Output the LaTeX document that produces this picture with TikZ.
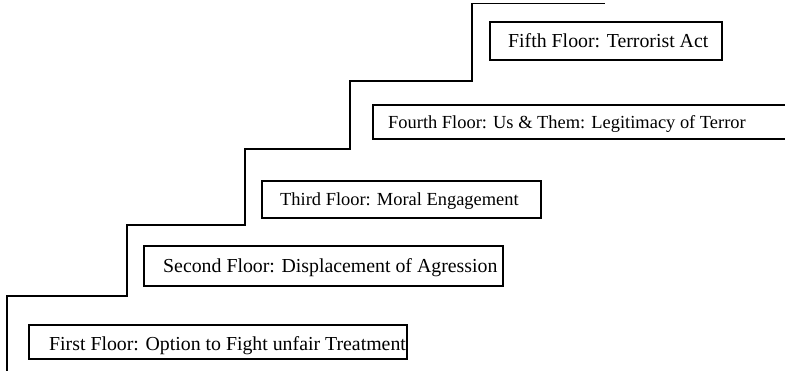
\documentclass[tikz,border=0pt]{standalone}
\usepackage{fontspec}
\setmainfont{Liberation Serif}
\begin{document}
\begin{tikzpicture}[x=1bp,y=-1bp,
  stair/.style={line width=1.8bp, line join=miter},
  floorbox/.style={draw, line width=1.8bp, rectangle, anchor=north west, inner sep=0pt},
  floortext/.style={anchor=base west, inner sep=0pt, font=\fontsize{18.5}{20}\selectfont},
  widetext/.style={floortext, font=\fontsize{19.9}{21}\selectfont}]
\useasboundingbox (0,0) rectangle (785,370);
\clip (0,0) rectangle (785,370);
% staircase
\coordinate (s0) at (7,372);
\coordinate (s1) at (7,296);
\coordinate (s2) at (127,296);
\coordinate (s3) at (127,225);
\coordinate (s4) at (245,225);
\coordinate (s5) at (245,149);
\coordinate (s6) at (350,149);
\coordinate (s7) at (350,81);
\coordinate (s8) at (472,81);
\coordinate (s9) at (472,3.5);
\coordinate (s10) at (605,3.5);
\draw[stair] (s0) -- (s1) -- (s2) -- (s3) -- (s4) -- (s5) -- (s6) -- (s7) -- (s8) -- (s9) -- (s10);
% boxes
\node[floorbox, minimum width=378bp, minimum height=34bp] (b1) at (28,324) {};
\node[floorbox, minimum width=359bp, minimum height=40bp] (b2) at (143,245) {};
\node[floorbox, minimum width=279bp, minimum height=37bp] (b3) at (261,180) {};
\node[floorbox, minimum width=440bp, minimum height=34bp] (b4) at (372,104) {};
\node[floorbox, minimum width=232bp, minimum height=38bp] (b5) at (489,21) {};
% texts
\node[widetext] (t1) at (49,350.5) {First Floor: Option to Fight unfair Treatment};
\node[widetext] (t2) at (163,272) {Second Floor: Displacement of Agression};
\node[floortext] (t3) at (280,205) {Third Floor: Moral Engagement};
\node[floortext] (t4) at (388,128) {Fourth Floor: Us \& Them: Legitimacy of Terror};
\node[widetext] (t5) at (508,47) {Fifth Floor: Terrorist Act};
\end{tikzpicture}
\end{document}
